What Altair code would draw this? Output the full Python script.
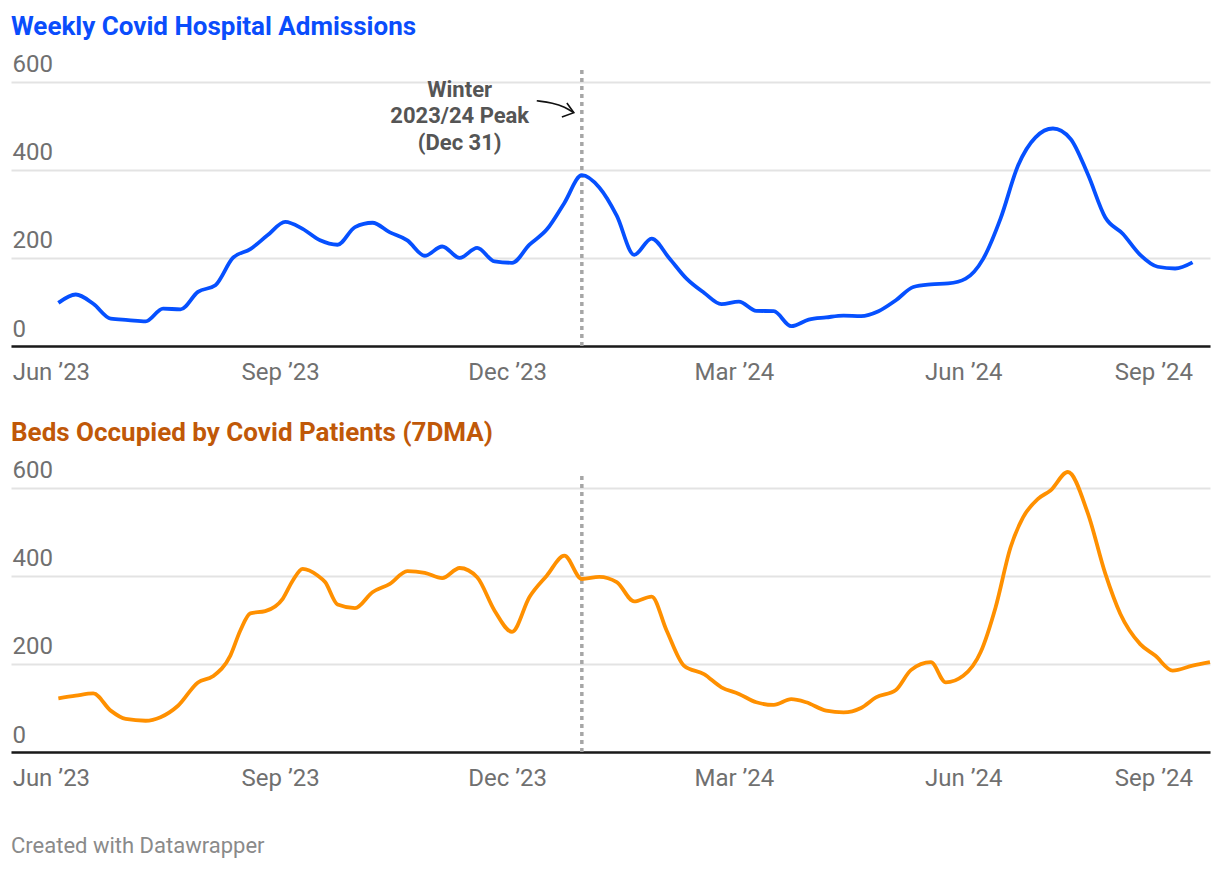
import altair as alt
import pandas as pd

# ---------------- data ----------------
admissions = [98, 117, 96, 62, 59, 56, 85, 83, 123, 138,
              200, 220, 252, 282, 266, 240, 230, 270, 280, 258,
              240, 205, 226, 200, 223, 192, 189, 230, 265, 325,
              388, 360, 296, 207, 244, 200, 153, 121, 95, 101,
              80, 79, 45, 60, 65, 69, 68, 79, 104, 134,
              140, 142, 153, 198, 290, 410, 474, 494, 471, 390,
              292, 255, 207, 180, 176, 190]
admissions_dates = pd.date_range("2023-06-04", periods=len(admissions), freq="7D")

beds_dates = ["2023-06-04", "2023-06-11", "2023-06-18", "2023-06-25", "2023-07-01",
              "2023-07-09", "2023-07-15", "2023-07-22", "2023-07-30", "2023-08-05",
              "2023-08-12", "2023-08-16", "2023-08-20", "2023-08-26", "2023-09-02",
              "2023-09-06", "2023-09-10", "2023-09-16", "2023-09-19", "2023-09-24",
              "2023-10-01", "2023-10-08", "2023-10-15", "2023-10-22", "2023-10-29",
              "2023-11-05", "2023-11-12", "2023-11-19", "2023-11-26", "2023-12-03",
              "2023-12-10", "2023-12-17", "2023-12-24", "2023-12-31", "2024-01-07",
              "2024-01-14", "2024-01-21", "2024-01-28", "2024-02-03", "2024-02-10",
              "2024-02-18", "2024-02-25", "2024-03-03", "2024-03-10", "2024-03-17",
              "2024-03-24", "2024-03-30", "2024-04-07", "2024-04-14", "2024-04-21",
              "2024-04-27", "2024-05-05", "2024-05-11", "2024-05-19", "2024-05-25",
              "2024-06-01", "2024-06-08", "2024-06-14", "2024-06-20", "2024-06-25",
              "2024-07-01", "2024-07-06", "2024-07-13", "2024-07-21", "2024-07-28",
              "2024-08-03", "2024-08-11", "2024-08-17", "2024-08-24", "2024-09-01",
              "2024-09-08"]
beds_values = [122, 128, 133, 94, 75,
               71, 79, 105, 158, 172,
               219, 276, 315, 320, 348,
               389, 416, 401, 386, 335,
               327, 363, 382, 411, 407,
               395, 418, 397, 321, 273,
               352, 401, 446, 393, 398,
               386, 342, 353, 276, 196,
               177, 147, 132, 113, 107,
               120, 113, 94, 90, 100,
               124, 141, 186, 204, 158,
               173, 227, 329, 465, 533,
               575, 594, 636, 542, 405,
               314, 245, 219, 185, 196,
               204]

tick_months = [(2023, 6), (2023, 9), (2023, 12), (2024, 3), (2024, 6), (2024, 9)]
y_ticks = [0, 200, 400, 600]
peak_date = "2023-12-31"
y_max = 636

title_top = "Weekly Covid Hospital Admissions"
title_bottom = "Beds Occupied by Covid Patients (7DMA)"
note_lines = "Winter\n2023/24 Peak\n(Dec 31)"
note_date = "2023-11-12"
note_value = 582   # level of the first line
footer = "Created with Datawrapper"

# curved arrow of the annotation (data units)
arrow_dates = ["2023-12-12 22:00", "2023-12-19 10:00", "2023-12-24 05:00", "2023-12-27 19:00"]
arrow_values = [557, 552, 543, 530]
head_dates = ["2023-12-25 00:00", "2023-12-27 19:00", "2023-12-23 00:00"]
head_values = [552, 530, 520]

# ---------------- frames ----------------
adm_df = pd.DataFrame({"date": admissions_dates, "value": admissions})
beds_df = pd.DataFrame({"date": pd.to_datetime(beds_dates), "value": beds_values})
rule_df = pd.DataFrame({"date": [pd.Timestamp(peak_date)], "value": [0], "y1": [y_max]})
note_df = pd.DataFrame({"date": [pd.Timestamp(note_date)], "value": [note_value], "text": [note_lines]})
arrow_df = pd.DataFrame({"date": pd.to_datetime(arrow_dates), "value": arrow_values,
                         "order": list(range(len(arrow_dates)))})
head_df = pd.DataFrame({"date": pd.to_datetime(head_dates), "value": head_values,
                        "order": list(range(len(head_dates)))})

FONT = "Roboto"
LABEL_COLOR = "#707070"
W, H = 1199, 280

x_scale = alt.Scale(domain=[alt.DateTime(year=2023, month=5, date=16),
                            alt.DateTime(year=2024, month=9, date=8)])
y_scale = alt.Scale(domain=[0, y_max], nice=False)

x_axis = alt.Axis(
    values=[alt.DateTime(year=y, month=m, date=1) for y, m in tick_months],
    format="%b \u2019%y", title=None, grid=False, ticks=False, tickSize=0,
    labelFont=FONT, labelFontSize=24, labelColor=LABEL_COLOR, labelPadding=14,
    labelFlush=False,
    labelAlign={"condition": {"test": "year(datum.value) == 2024 && month(datum.value) == 8",
                              "value": "right"}, "value": "center"},
    domainColor="#1a1a1a", domainWidth=2.5,
)
y_axis = alt.Axis(
    values=y_ticks, title=None, domain=False, ticks=False, tickSize=0,
    labelAlign="left", labelBaseline="alphabetic", labelOffset=-10, labelPadding=-1,
    labelFont=FONT, labelFontSize=24, labelColor=LABEL_COLOR,
    gridColor="#e3e3e3", gridWidth=2,
)

X = alt.X("date:T", scale=x_scale, axis=x_axis)
Y = alt.Y("value:Q", scale=y_scale, axis=y_axis)


def panel(df, color, title, title_color, with_note):
    rule = alt.Chart(rule_df).mark_rule(color="#a6a6a6", strokeWidth=3.5, strokeDash=[4, 4]).encode(
        x=X, y=Y, y2="y1:Q",
    )
    line = alt.Chart(df).mark_line(color=color, strokeWidth=3.8, interpolate="monotone").encode(
        x=X, y=Y,
    )
    layers = [rule, line]
    if with_note:
        note = alt.Chart(note_df).mark_text(
            font=FONT, fontSize=22, fontWeight="bold", color="#555555",
            align="center", baseline="middle", lineBreak="\n", lineHeight=26.5,
        ).encode(x=X, y=Y, text="text:N")
        arrow = alt.Chart(arrow_df).mark_line(color="#111111", strokeWidth=1.6, interpolate="basis").encode(
            x=X, y=Y, order="order:Q")
        head = alt.Chart(head_df).mark_line(color="#111111", strokeWidth=1.6).encode(
            x=X, y=Y, order="order:Q")
        layers += [note, arrow, head]
    return alt.layer(*layers).properties(
        width=W, height=H,
        title=alt.TitleParams(title, anchor="start", font=FONT, fontSize=26, fontWeight="bold",
                              color=title_color, offset=13),
    )


top = panel(adm_df, "#0650ff", title_top, "#0a4dfc", True)
bottom = panel(beds_df, "#ff9000", title_bottom, "#c05808", False)

chart = alt.vconcat(top, bottom, spacing=35).properties(
    padding={"left": 11, "right": 2, "top": 13, "bottom": 4},
    title=alt.TitleParams(footer, orient="bottom", anchor="start", font=FONT, fontSize=22,
                          fontWeight="normal", color="#8a8a8a", offset=46),
).configure(background="white").configure_view(stroke=None)

chart.save("out.html", embed_options={"renderer": "svg", "actions": False})
